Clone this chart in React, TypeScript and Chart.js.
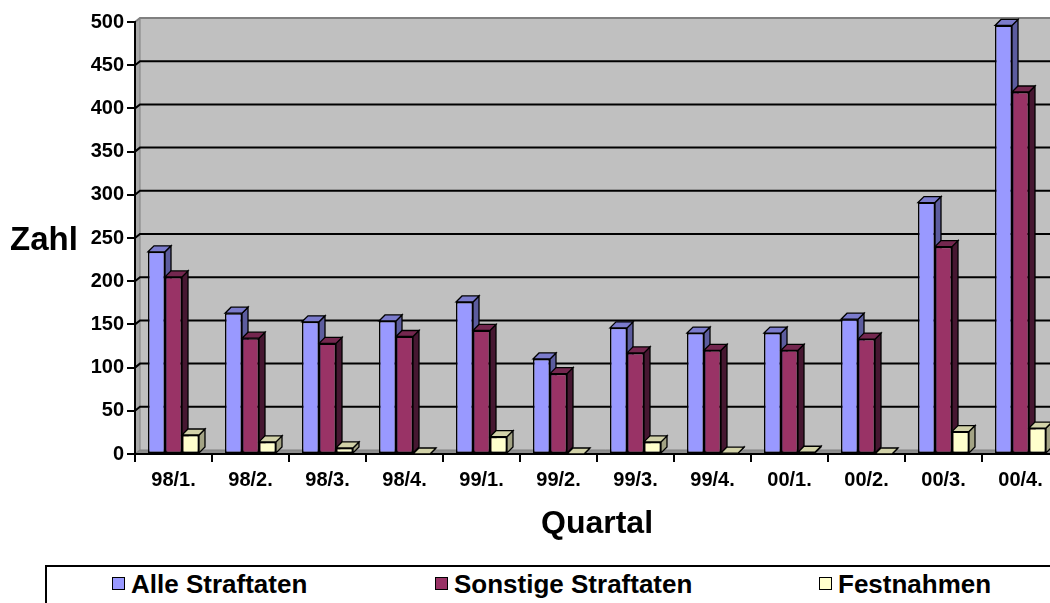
import React, { useEffect, useRef } from 'react';
import { Chart, registerables } from 'chart.js';

Chart.register(...registerables);

const categories = ['98/1.', '98/2.', '98/3.', '98/4.', '99/1.', '99/2.', '99/3.', '99/4.', '00/1.', '00/2.', '00/3.', '00/4.'];
const alleStraftaten = [234, 163, 153, 154, 176, 110, 146, 140, 140, 156, 291, 496];
const sonstigeStraftaten = [205, 134, 128, 136, 143, 93, 117, 120, 120, 133, 240, 419];
const festnahmen = [22, 14, 7, 0, 20, 0, 14, 1, 2, 0, 26, 30];
const yTicks = [0, 50, 100, 150, 200, 250, 300, 350, 400, 450, 500];
const seriesNames = ['Alle Straftaten', 'Sonstige Straftaten', 'Festnahmen'];
const yTitle = 'Zahl';
const xTitle = 'Quartal';

const FONT = '"Liberation Sans", Arial, Helvetica, sans-serif';
const faces = [
  { front: '#9999FF', side: '#5C5C9E', top: '#7B7BCC' },
  { front: '#993366', side: '#461731', top: '#74274F' },
  { front: '#FFFFCC', side: '#A3A384', top: '#D2D2A8' },
];
const DEPTH = 6;
const WX = 5;
const WY = 4;

function poly(ctx: CanvasRenderingContext2D, pts: number[][], fill: string, stroke: string, lw: number) {
  ctx.beginPath();
  ctx.moveTo(pts[0][0], pts[0][1]);
  for (let i = 1; i < pts.length; i++) ctx.lineTo(pts[i][0], pts[i][1]);
  ctx.closePath();
  ctx.fillStyle = fill;
  ctx.fill();
  ctx.lineWidth = lw;
  ctx.strokeStyle = stroke;
  ctx.stroke();
}

const depthPlugin = {
  id: 'depth3d',
  beforeDraw(chart: any) {
    const { ctx, chartArea: a } = chart;
    ctx.save();
    ctx.lineJoin = 'miter';
    ctx.fillStyle = '#C0C0C0';
    ctx.fillRect(a.left + WX, a.top - WY, a.right - a.left + 20, a.bottom - a.top);
    poly(ctx, [[a.left, a.top], [a.left + WX, a.top - WY], [a.left + WX, a.bottom - WY], [a.left, a.bottom]], '#A8A8A8', '#808080', 1);
    poly(ctx, [[a.left, a.bottom], [a.left + WX, a.bottom - WY], [a.right + 30, a.bottom - WY], [a.right + 30, a.bottom]], '#8E8E8E', '#808080', 1);
    ctx.beginPath();
    ctx.moveTo(a.left, a.top);
    ctx.lineTo(a.left + WX, a.top - WY);
    ctx.lineTo(a.right + 30, a.top - WY);
    ctx.strokeStyle = '#808080';
    ctx.lineWidth = 2;
    ctx.stroke();
    ctx.restore();
  },
  beforeDatasetsDraw(chart: any) {
    const { ctx, chartArea: a } = chart;
    const yScale = chart.scales.y;
    ctx.save();
    ctx.strokeStyle = '#000';
    ctx.lineWidth = 2;
    yTicks.forEach((v) => {
      if (v === yTicks[0] || v === yTicks[yTicks.length - 1]) return;
      const y = yScale.getPixelForValue(v);
      ctx.beginPath();
      ctx.moveTo(a.left, y);
      ctx.lineTo(a.left + WX, y - WY);
      ctx.lineTo(a.right + 30, y - WY);
      ctx.stroke();
    });
    ctx.lineJoin = 'miter';
    chart.data.datasets.forEach((_ds: any, di: number) => {
      const meta = chart.getDatasetMeta(di);
      const f = faces[di];
      meta.data.forEach((bar: any) => {
        const { x, y, base, width } = bar.getProps(['x', 'y', 'base', 'width'], true);
        const l = x - width / 2;
        const r = x + width / 2;
        poly(ctx, [[r, y], [r + DEPTH, y - DEPTH], [r + DEPTH, base - DEPTH], [r, base]], f.side, '#000', 1.3);
        poly(ctx, [[l, y], [l + DEPTH, y - DEPTH], [r + DEPTH, y - DEPTH], [r, y]], f.top, '#000', 1.3);
      });
    });
    ctx.restore();
  },
  afterDraw(chart: any) {
    const { ctx } = chart;
    ctx.save();
    ctx.font = `bold 33px ${FONT}`;
    ctx.fillStyle = '#000';
    ctx.textBaseline = 'alphabetic';
    ctx.textAlign = 'left';
    ctx.fillText(yTitle, 10, 250);
    ctx.restore();
  },
};

export default function App() {
  const ref = useRef<HTMLCanvasElement>(null);

  useEffect(() => {
    const seriesData = [alleStraftaten, sonstigeStraftaten, festnahmen];
    const chart = new Chart(ref.current as HTMLCanvasElement, {
      type: 'bar',
      data: {
        labels: categories,
        datasets: seriesNames.map((name, i) => ({
          label: name,
          data: seriesData[i],
          backgroundColor: faces[i].front,
          borderColor: '#000',
          borderWidth: 1.5,
          borderSkipped: false,
          categoryPercentage: 0.662,
          barPercentage: 1,
        })),
      },
      options: {
        responsive: false,
        animation: false,
        layout: { padding: { top: 22, left: 0, right: 11, bottom: 0 } },
        plugins: {
          legend: { display: false },
          tooltip: { enabled: false },
          title: { display: false },
        },
        scales: {
          x: {
            type: 'category',
            offset: true,
            grid: {
              display: true,
              drawOnChartArea: false,
              drawTicks: true,
              tickLength: 8,
              color: '#000',
              lineWidth: 2,
              offset: true,
            },
            border: { display: true, color: '#000', width: 2 },
            ticks: {
              color: '#000',
              font: { family: FONT, size: 20, weight: 'bold' },
              padding: 6,
              maxRotation: 0,
              autoSkip: false,
            },
            title: {
              display: true,
              text: xTitle,
              color: '#000',
              font: { family: FONT, size: 32, weight: 'bold' },
              padding: { top: 0, bottom: 17 },
            },
            afterFit: (s: any) => {
              s.height = 106;
            },
          },
          y: {
            min: yTicks[0],
            max: yTicks[yTicks.length - 1],
            afterBuildTicks: (s: any) => {
              s.ticks = yTicks.map((v) => ({ value: v }));
            },
            grid: {
              display: true,
              drawOnChartArea: false,
              drawTicks: true,
              tickLength: 8,
              color: '#000',
              lineWidth: 2,
            },
            border: { display: true, color: '#000', width: 2 },
            ticks: {
              color: '#000',
              font: { family: FONT, size: 20, weight: 'bold' },
              padding: 3,
            },
            afterFit: (s: any) => {
              s.width = 135;
            },
          },
        },
      },
      plugins: [depthPlugin],
    } as any);
    return () => chart.destroy();
  }, []);

  const legendX = [112, 435, 819];

  return (
    <div style={{ position: 'absolute', left: 0, top: 0, width: 1050, height: 603, overflow: 'hidden', background: '#fff' }}>
      <canvas ref={ref} width={1070} height={560} style={{ position: 'absolute', left: 0, top: 0, width: 1070, height: 560 }} />
      <div
        style={{
          position: 'absolute',
          left: 45,
          top: 565,
          width: 1100,
          height: 60,
          borderLeft: '2px solid #000',
          borderTop: '2px solid #000',
        }}
      />
      {seriesNames.map((name, i) => (
        <React.Fragment key={name}>
          <div
            style={{
              position: 'absolute',
              left: legendX[i],
              top: 577,
              width: 13,
              height: 13,
              boxSizing: 'border-box',
              border: '1.5px solid #000',
              background: faces[i].front,
            }}
          />
          <span
            style={{
              position: 'absolute',
              left: legendX[i] + 19,
              top: 571,
              font: `bold 26px ${FONT}`,
              lineHeight: '26px',
              whiteSpace: 'nowrap',
              color: '#000',
            }}
          >
            {name}
          </span>
        </React.Fragment>
      ))}
    </div>
  );
}
